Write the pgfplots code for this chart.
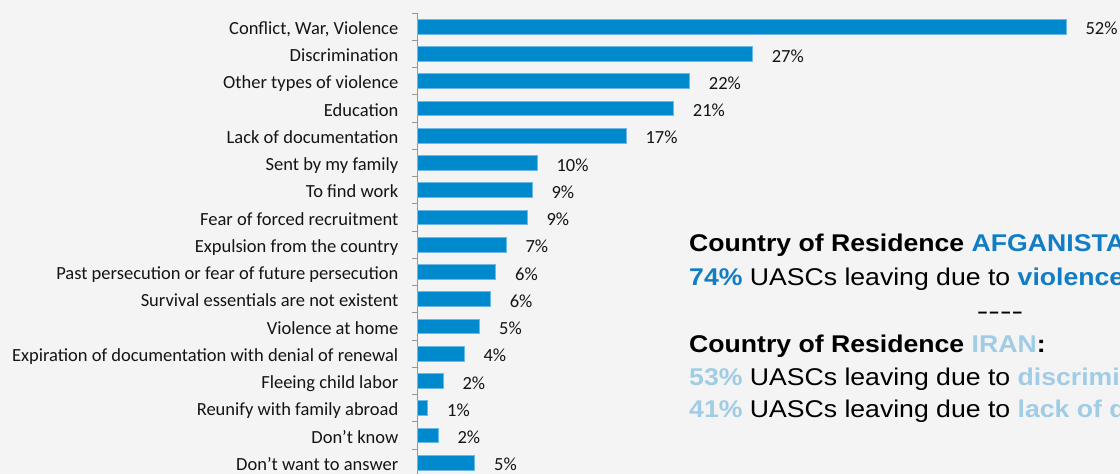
\documentclass[border=0pt]{standalone}
\usepackage{fontspec}
\setmainfont{Carlito}
\newfontfamily\hv[FakeStretch=1.1]{Liberation Sans}
\usepackage{graphicx}
\usepackage{pgfplots}
\pgfplotsset{compat=1.18}
\usepackage{pgfplotstable}
\definecolor{bg}{RGB}{244,244,244}
\definecolor{barblue}{RGB}{0,137,204}
\definecolor{baredge}{RGB}{110,185,228}
\definecolor{dblue}{RGB}{16,125,196}
\definecolor{lblue}{RGB}{160,204,230}
\definecolor{axgrey}{RGB}{150,150,150}
\definecolor{txt}{RGB}{20,20,20}

\pgfplotstableread{
i v lab
0 52.1 52
1 26.9 27
2 21.85 22
3 20.56 21
4 16.76 17
5 9.61 10
6 9.21 9
7 8.81 9
8 7.12 7
9 6.29 6
10 5.86 6
11 5.0 5
12 3.75 4
13 2.06 2
14 0.83 1
15 1.66 2
16 4.6 5
}\datatable

\begin{document}
\begin{tikzpicture}
\useasboundingbox (0,0) rectangle (1120pt,474pt);
\clip (0,0) rectangle (1120pt,474pt);
\fill[bg] (0,0) rectangle (1120pt,474pt);
\begin{axis}[
  at={(417.5pt,460.9pt)}, anchor=north west,
  x=12.45pt, y=27.25pt,
  xmin=0, xmax=52.1, ymin=-0.5, ymax=16.5,
  y dir=reverse,
  axis x line=none, axis y line=left,
  y axis line style={-, draw=axgrey, line width=1.3pt},
  ytick={0,...,16},
  yticklabels={{Conflict, War, Violence},{Discrimination},{Other types of violence\ },{Education},{Lack of documentation},{Sent by my family},{To find work},{Fear of forced recruitment},{Expulsion from the country},{Past persecution or fear of future persecution},{Survival essentials are not existent\ },{Violence at home},{Expiration of documentation with denial of renewal},{Fleeing child labor},{Reunify with family abroad\ },{Don’t know},{Don’t want to answer}},
  minor ytick={-0.5,0.5,...,16.5},
  major tick length=0pt, minor tick length=5pt,
  tick align=outside,
  tick style={axgrey, line width=1.2pt},
  yticklabel style={font=\fontsize{18.5}{20}\selectfont, text=txt, anchor=base east, inner sep=0pt, xshift=-19pt, yshift=-7.6pt},
  xbar, bar width=14.7pt,
  clip=false,
  point meta=explicit,
  /pgf/number format/assume math mode=true,
  nodes near coords={\pgfmathprintnumber[fixed,precision=0]{\pgfplotspointmeta}\%},
  nodes near coords style={font=\fontsize{18.5}{20}\selectfont, text=txt, anchor=base west, inner sep=0pt, xshift=19pt, yshift=-8.2pt},
]
\addplot[fill=barblue, draw=baredge, line width=0.8pt] table[x=v, y=i, meta=lab] {\datatable};
\end{axis}
\begin{scope}[every node/.style={anchor=base west, inner sep=0pt, font=\hv\fontsize{24.2}{28}\selectfont, text=black}]
\node at (689pt,222pt) {\bfseries Country of Residence \textcolor{dblue}{AFGANISTAN}:};
\node at (689pt,188pt) {\textcolor{dblue}{\bfseries 74\%} UASCs leaving due to \textcolor{dblue}{\bfseries violence}};
\node[anchor=base] at (1000pt,154.3pt) {\scalebox{1.3}[1]{----}};
\node at (689pt,121pt) {\bfseries Country of Residence \textcolor{lblue}{IRAN}:};
\node at (689pt,88pt) {\textcolor{lblue}{\bfseries 53\%} UASCs leaving due to \textcolor{lblue}{\bfseries discrimination}};
\node at (689pt,56pt) {\textcolor{lblue}{\bfseries 41\%} UASCs leaving due to \textcolor{lblue}{\bfseries lack of documentation}};
\end{scope}
\end{tikzpicture}
\end{document}
